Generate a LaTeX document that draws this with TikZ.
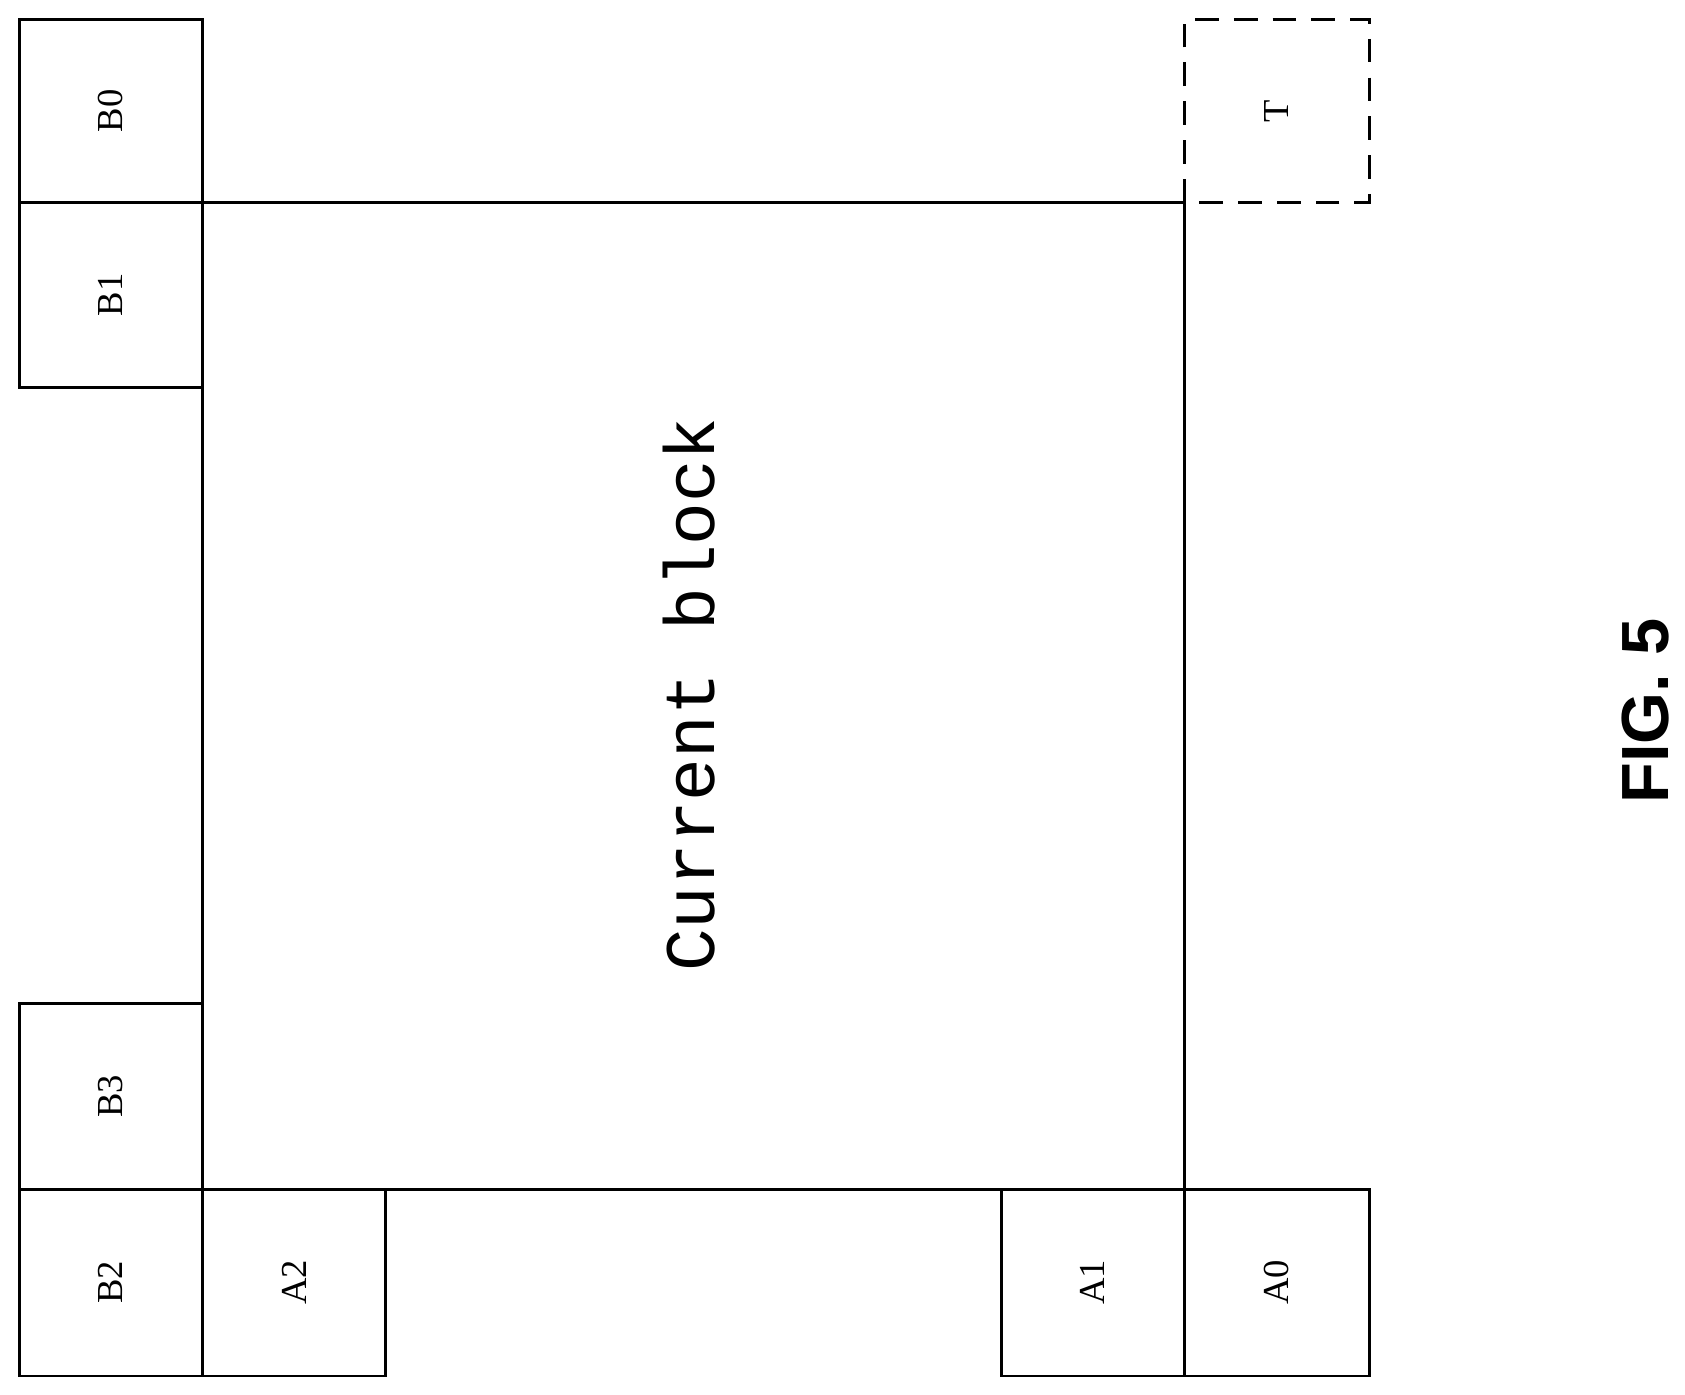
\documentclass[tikz,border=0pt]{standalone}
\usepackage{fontspec}
\setmainfont{Liberation Serif}
\newfontfamily\monof{Liberation Mono}
\newfontfamily\sansf{Liberation Sans}
\begin{document}
\begin{tikzpicture}[x=1pt,y=-1pt,
  cell/.style={draw,line width=2.5pt},
  lab/.style={rotate=90,font=\fontsize{34}{40}\selectfont}]
\useasboundingbox (0,0) rectangle (1565,1295);
\draw[cell] (188,188) rectangle (1100,1105);
\draw[cell] (18,18) rectangle (188,188);
\draw[cell] (18,188) rectangle (188,360);
\draw[cell] (18,932) rectangle (188,1105);
\draw[cell] (18,1105) rectangle (188,1278);
\draw[cell] (188,1105) rectangle (358,1278);
\draw[cell] (930,1105) rectangle (1100,1278);
\draw[cell] (1100,1105) rectangle (1272,1278);
\draw[line width=2.5pt,dashed,dash pattern=on 22pt off 14pt] (1100,188) -- (1100,18) -- (1272,18) -- (1272,188) -- (1100,188);
\node[lab] (b0) at (103,103) {B0};
\node[lab] (b1) at (103,274) {B1};
\node[lab] (b3) at (103,1018) {B3};
\node[lab] (b2) at (103,1191) {B2};
\node[lab] (a2) at (273,1191) {A2};
\node[lab] (a1) at (1015,1191) {A1};
\node[lab] (a0) at (1186,1191) {A0};
\node[lab] (t) at (1186,103) {T};
\node[rotate=90,font=\monof\fontsize{66}{70}\selectfont] (cb) at (640,645) {Current block};
\node[rotate=90,font=\sansf\bfseries\fontsize{62}{70}\selectfont] (fig) at (1528,660) {FIG. 5};
\end{tikzpicture}
\end{document}
